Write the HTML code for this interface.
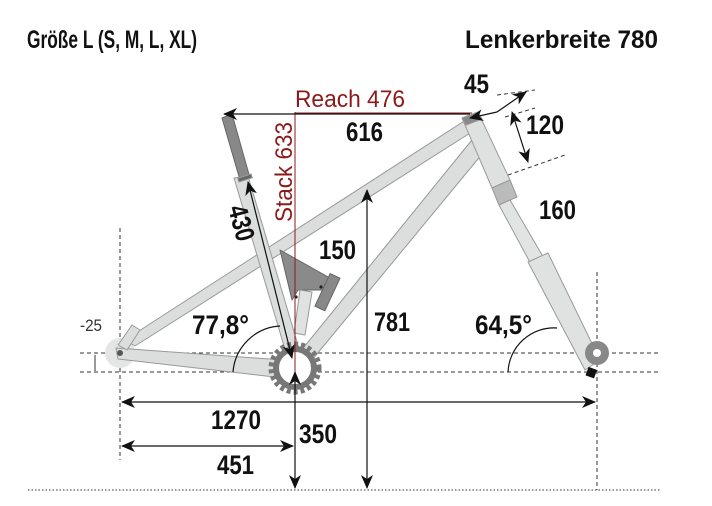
<!DOCTYPE html>
<html><head><meta charset="utf-8"><style>
html,body{margin:0;padding:0;background:#fff;}
svg{display:block;}
.b{font-family:"Liberation Sans Narrow","Liberation Sans",sans-serif;font-weight:bold;fill:#111;}
</style></head><body>
<svg width="712" height="506" viewBox="0 0 712 506" xmlns="http://www.w3.org/2000/svg">
<defs>
<marker id="a" markerWidth="14" markerHeight="12" refX="13" refY="6" orient="auto-start-reverse" markerUnits="userSpaceOnUse">
<path d="M0,0 L14,6 L0,12 L4,6 Z" fill="#111"/></marker>
</defs>
<text class="b" x="27" y="48" font-size="25" textLength="170" lengthAdjust="spacingAndGlyphs">Größe L (S, M, L, XL)</text>
<text class="b" x="465" y="48" font-size="25" textLength="193" lengthAdjust="spacingAndGlyphs">Lenkerbreite 780</text>

<g stroke="#333" stroke-width="1" stroke-dasharray="4,3" fill="none">
<line x1="80" y1="353" x2="660" y2="353"/>
<line x1="80" y1="372" x2="660" y2="372"/>
<line x1="120" y1="228" x2="120" y2="460"/>
<line x1="597" y1="272" x2="597" y2="490"/>
<line x1="497" y1="95" x2="535" y2="90"/>
<line x1="505" y1="117" x2="535" y2="108"/>
<line x1="508" y1="175" x2="565" y2="155"/>
</g>
<line x1="28" y1="490" x2="660" y2="490" stroke="#333" stroke-width="1" stroke-dasharray="1.5,2"/>
<line x1="95" y1="355" x2="95" y2="371" stroke="#333"/>

<g stroke="#999" stroke-width="1" stroke-linejoin="round">
<circle cx="120" cy="353" r="15" fill="#e4e6e6" stroke="none"/>
<polygon points="116,348 283,360 283,378 118,359" fill="#dcdede"/>
<polygon points="125,340 472,116 478,128 135,346" fill="#dcdede"/>
<polygon points="118,345 132,325 140,330 127,350" fill="#dcdede"/>
<polygon points="300,352 480,130 492,142 312,360" fill="#dcdede"/>
<polygon points="234,178 248,176 300,352 287,356" fill="#dcdede"/>
<polygon points="222,118 232,114 250,178 240,180" fill="#888" stroke="#666"/>
<rect x="238" y="176" width="14" height="4" fill="#666" transform="rotate(-18 245 178)"/>
<polygon points="280,250 330,278 326,290 298,290 292,300" fill="#8a8a8a" stroke="#666"/>
<rect x="322" y="274" width="11" height="36" fill="#888" stroke="#666" transform="rotate(25 327 292)"/>
<polygon points="300,290 312,292 305,335 294,333" fill="#e0e2e2"/>
<polygon points="462,118 478,112 510,180 492,188" fill="#dfe1e1"/>
<polygon points="462,118 478,112 482,119 466,125" fill="#888"/>
<polygon points="492,188 510,180 517,197 499,205" fill="#bbb"/>
<polygon points="499,205 510,200 545,260 532,266" fill="#e2e4e4"/>
<polygon points="528,262 548,253 600,360 585,370" fill="#e0e2e2"/>
<circle cx="597" cy="353" r="12" fill="#888" stroke="none"/>
<circle cx="597" cy="353" r="4" fill="#fff" stroke="none"/>
<rect x="587" y="368" width="9" height="9" fill="#111" stroke="none" transform="rotate(20 591 372)"/>
</g>
<circle cx="295" cy="368" r="24" fill="none" stroke="#777" stroke-width="5" stroke-dasharray="4,3"/>
<circle cx="295" cy="368" r="19" fill="#fff" stroke="#777" stroke-width="6"/>
<circle cx="120" cy="353" r="3" fill="#555"/>
<circle cx="296" cy="297" r="1.6" fill="#222"/><circle cx="321" cy="287" r="1.6" fill="#222"/>

<g stroke="#8b1a1a" stroke-width="1" fill="none">
<line x1="295" y1="113" x2="472" y2="113"/>
<line x1="295" y1="112" x2="295" y2="375"/>
</g>
<text x="295" y="107" font-family="Liberation Sans Narrow,Liberation Sans,sans-serif" font-size="24" fill="#8b1a1a" textLength="110" lengthAdjust="spacingAndGlyphs">Reach 476</text>
<text transform="translate(292,222) rotate(-90)" font-family="Liberation Sans Narrow,Liberation Sans,sans-serif" font-size="24" fill="#8b1a1a" textLength="100" lengthAdjust="spacingAndGlyphs">Stack 633</text>

<g stroke="#111" stroke-width="1.2" fill="none">
<line x1="470" y1="114" x2="224" y2="114" marker-end="url(#a)"/>
<line x1="497" y1="112" x2="470" y2="118" marker-end="url(#a)"/>
<line x1="497" y1="112" x2="526" y2="92" marker-end="url(#a)"/>
<line x1="512" y1="112" x2="528" y2="162" marker-start="url(#a)" marker-end="url(#a)"/>
<line x1="248" y1="182" x2="292" y2="358" marker-start="url(#a)" marker-end="url(#a)"/>
<line x1="367" y1="190" x2="367" y2="488" marker-start="url(#a)" marker-end="url(#a)"/>
<line x1="295" y1="372" x2="295" y2="488" marker-start="url(#a)" marker-end="url(#a)"/>
<line x1="122" y1="402" x2="595" y2="402" marker-start="url(#a)" marker-end="url(#a)"/>
<line x1="122" y1="446" x2="293" y2="446" marker-start="url(#a)" marker-end="url(#a)"/>
<path d="M233,372 A50,50 0 0 1 280,326"/>
<path d="M508,372 A46,46 0 0 1 557,328"/>
</g>

<g font-size="27" class="b">
<text class="b" x="346" y="141" textLength="37" lengthAdjust="spacingAndGlyphs">616</text>
<text class="b" x="464" y="93" textLength="25" lengthAdjust="spacingAndGlyphs">45</text>
<text class="b" x="526" y="134" textLength="38" lengthAdjust="spacingAndGlyphs">120</text>
<text class="b" x="539" y="219" textLength="37" lengthAdjust="spacingAndGlyphs">160</text>
<text class="b" x="319" y="259" textLength="37" lengthAdjust="spacingAndGlyphs">150</text>
<text class="b" x="374" y="331" textLength="36" lengthAdjust="spacingAndGlyphs">781</text>
<text class="b" x="192" y="334" textLength="57" lengthAdjust="spacingAndGlyphs">77,8°</text>
<text class="b" x="475" y="334" textLength="57" lengthAdjust="spacingAndGlyphs">64,5°</text>
<text class="b" x="211" y="429" textLength="50" lengthAdjust="spacingAndGlyphs">1270</text>
<text class="b" x="299" y="443" textLength="38" lengthAdjust="spacingAndGlyphs">350</text>
<text class="b" x="217" y="474" textLength="37" lengthAdjust="spacingAndGlyphs">451</text>
<text class="b" transform="translate(228,208) rotate(75)" textLength="36" lengthAdjust="spacingAndGlyphs">430</text>
</g>
<text x="80" y="331" font-family="Liberation Sans Narrow,Liberation Sans,sans-serif" font-size="17" fill="#333" textLength="22" lengthAdjust="spacingAndGlyphs">-25</text>
</svg>
</body></html>
